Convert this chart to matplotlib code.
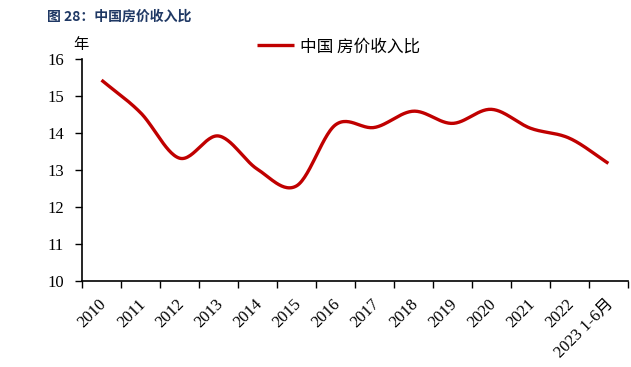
import numpy as np
import matplotlib
matplotlib.use("Agg")
import matplotlib.pyplot as plt
from matplotlib.transforms import ScaledTranslation

categories = ["2010", "2011", "2012", "2013", "2014", "2015", "2016", "2017",
              "2018", "2019", "2020", "2021", "2022", "2023 1-6月"]
values = [15.43, 14.55, 13.32, 13.92, 13.02, 12.57, 14.22, 14.15,
          14.59, 14.26, 14.64, 14.13, 13.86, 13.18]
series_name = "中国 房价收入比"
title = "图 28：中国房价收入比"
yticks = [10, 11, 12, 13, 14, 15, 16]

CJK = ["Noto Sans CJK SC", "DejaVu Sans"]
SERIF = ["Liberation Serif", "Noto Sans CJK SC"]


def catmull_rom(x, y, n=30):
    x = np.asarray(x, float)
    y = np.asarray(y, float)
    px = np.concatenate([[2 * x[0] - x[1]], x, [2 * x[-1] - x[-2]]])
    py = np.concatenate([[2 * y[0] - y[1]], y, [2 * y[-1] - y[-2]]])
    xs, ys = [], []
    t = np.linspace(0, 1, n)
    for i in range(1, len(px) - 2):
        p0, p1, p2, p3 = py[i - 1], py[i], py[i + 1], py[i + 2]
        q0, q1, q2, q3 = px[i - 1], px[i], px[i + 1], px[i + 2]
        m1y, m2y = (p2 - p0) / 2, (p3 - p1) / 2
        m1x, m2x = (q2 - q0) / 2, (q3 - q1) / 2
        h00 = 2 * t**3 - 3 * t**2 + 1
        h10 = t**3 - 2 * t**2 + t
        h01 = -2 * t**3 + 3 * t**2
        h11 = t**3 - t**2
        xs.append(h00 * q1 + h10 * m1x + h01 * q2 + h11 * m2x)
        ys.append(h00 * p1 + h10 * m1y + h01 * p2 + h11 * m2y)
    return np.concatenate(xs), np.concatenate(ys)


fig = plt.figure(figsize=(6.31, 3.67), dpi=100)
ax = fig.add_axes([0.130, 0.2343, 0.865, 0.6049])

x = np.arange(len(categories))
sx, sy = catmull_rom(x, values)
ax.plot(sx, sy, color="#C00000", lw=2.4, label=series_name, solid_capstyle="butt")

ax.set_xlim(-0.5, len(categories) - 0.5)
ax.set_ylim(10, 16)
ax.set_yticks(yticks)
ax.set_yticklabels([str(v) for v in yticks], fontsize=12, family=SERIF)
ax.set_xticks(np.arange(len(categories) + 1) - 0.5)
ax.set_xticklabels([])
ax.set_xticks(x, minor=True)
ax.set_xticklabels(categories, minor=True, rotation=45, ha="right",
                   rotation_mode="anchor", fontsize=12, family=SERIF)
ax.tick_params(axis="x", which="minor", length=0, pad=11)
ax.tick_params(axis="x", which="major", direction="out", length=5, width=1)
ax.tick_params(axis="y", direction="out", length=5, width=1, pad=8)
off = ScaledTranslation(-3 / 100, 0, fig.dpi_scale_trans)
for lab in ax.get_xticklabels(minor=True):
    lab.set_transform(lab.get_transform() + off)

for s in ["top", "right"]:
    ax.spines[s].set_visible(False)
for s in ["left", "bottom"]:
    ax.spines[s].set_linewidth(1.2)

ax.text(-0.002, 1.025, "年", transform=ax.transAxes, fontsize=11,
        family=CJK, ha="center", va="bottom")

leg = ax.legend(loc="center", bbox_to_anchor=(0.47, 1.055), frameon=False,
                prop={"family": CJK, "size": 12}, handlelength=2.2,
                handletextpad=0.4)

fig.text(0.075, 0.955, title, fontsize=10, fontweight="bold", color="#1F3864",
         family=CJK, ha="left", va="center")

fig.savefig("out.png", dpi=100)
